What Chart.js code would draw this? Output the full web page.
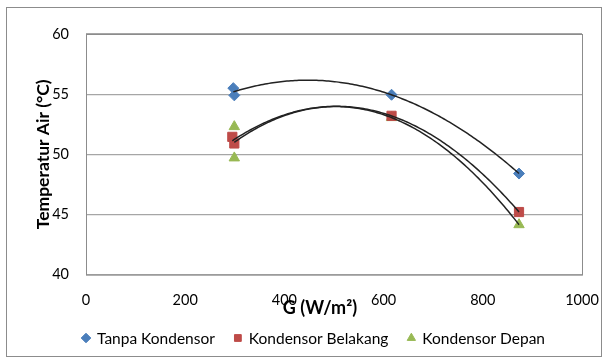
<!DOCTYPE html>
<html>
<head>
<meta charset="utf-8">
<script src="https://cdn.jsdelivr.net/npm/chart.js@4/dist/chart.umd.min.js"></script>
<style>
  body { margin: 0; background: #fff; }
  #wrap { position: absolute; left: 6px; top: 7px; width: 594px; height: 348px; border: 1px solid #8c8c8c; }
</style>
</head>
<body>
<div id="wrap"><canvas id="chart"></canvas></div>
<script>
// ─── Data ────────────────────────────────────────────────────────────────────
const tanpaX = [297, 299, 616, 873];
const tanpaY = [55.5, 54.9, 54.95, 48.4];
const belakangX = [295, 299, 616, 873];
const belakangY = [51.45, 50.9, 53.2, 45.2];
const depanX = [299, 299, 616, 873];
const depanY = [52.3, 49.7, 53.05, 44.15];
const xTicks = [0, 200, 400, 600, 800, 1000];
const yTicks = [40, 45, 50, 55, 60];
const xTitle = 'G (W/m²)';
const yTitle = 'Temperatur Air (°C)';

const pts = (xs, ys) => xs.map((x, i) => ({ x, y: ys[i] }));

// Excel-style order-2 polynomial trendline (least squares on the series)
function polyTrend(xs, ys) {
  const n = xs.length;
  let s = [0, 0, 0, 0, 0], t = [0, 0, 0];
  for (let i = 0; i < n; i++) {
    for (let k = 0; k < 5; k++) s[k] += Math.pow(xs[i], k);
    for (let k = 0; k < 3; k++) t[k] += ys[i] * Math.pow(xs[i], k);
  }
  const A = [[s[0], s[1], s[2], t[0]], [s[1], s[2], s[3], t[1]], [s[2], s[3], s[4], t[2]]];
  for (let c = 0; c < 3; c++) {
    for (let r = c + 1; r < 3; r++) {
      const f = A[r][c] / A[c][c];
      for (let k = c; k < 4; k++) A[r][k] -= f * A[c][k];
    }
  }
  const b = [0, 0, 0];
  for (let r = 2; r >= 0; r--) {
    let v = A[r][3];
    for (let k = r + 1; k < 3; k++) v -= A[r][k] * b[k];
    b[r] = v / A[r][r];
  }
  const lo = Math.min(...xs), hi = Math.max(...xs), out = [];
  for (let x = lo; x <= hi; x += 4) out.push({ x, y: b[0] + b[1] * x + b[2] * x * x });
  out.push({ x: hi, y: b[0] + b[1] * hi + b[2] * hi * hi });
  return out;
}

const FONT = 'Lato';
const trendStyle = { type: 'line', borderColor: '#222', borderWidth: 1.5, pointRadius: 0, fill: false, tension: 0, isTrend: true };

// plot frame, x title (sits a little left of centre) and the legend row
const frameAndLegend = {
  id: 'frameAndLegend',
  afterDraw(chart) {
    const { ctx, chartArea: a } = chart;
    ctx.save();
    ctx.strokeStyle = '#8c8c8c';
    ctx.lineWidth = 1;
    ctx.strokeRect(a.left + 0.5, a.top + 0.5, a.right - a.left, a.bottom - a.top);

    ctx.fillStyle = '#000';
    ctx.textBaseline = 'middle';
    ctx.textAlign = 'center';
    ctx.font = `bold 18px ${FONT}`;
    ctx.fillText(xTitle, (a.left + a.right) / 2 - 14, 300);

    ctx.textAlign = 'left';
    ctx.font = `15.5px ${FONT}`;
    const items = chart.data.datasets.filter((d) => !d.isTrend);
    const mark = 10, gap = 6, sep = 18;
    const widths = items.map((d) => mark + gap + ctx.measureText(d.label).width);
    const total = widths.reduce((p, w) => p + w, 0) + sep * (items.length - 1);
    let x = 306 - total / 2;
    const y = 330;
    items.forEach((d, i) => {
      ctx.fillStyle = d.backgroundColor;
      ctx.strokeStyle = d.borderColor;
      Chart.helpers.drawPoint(ctx, { pointStyle: d.pointStyle, radius: 4.8, borderWidth: 1 }, x + mark / 2, y);
      ctx.fillStyle = '#000';
      ctx.fillText(d.label, x + mark + gap, y + 1);
      x += widths[i] + sep;
    });
    ctx.restore();
  },
};

new Chart(document.getElementById('chart'), {
  type: 'scatter',
  data: {
    datasets: [
      { ...trendStyle, data: polyTrend(tanpaX, tanpaY) },
      { ...trendStyle, data: polyTrend(belakangX, belakangY) },
      { ...trendStyle, data: polyTrend(depanX, depanY) },
      {
        label: 'Tanpa Kondensor',
        data: pts(tanpaX, tanpaY),
        pointStyle: 'rectRot',
        pointRadius: 5.5,
        backgroundColor: '#4a7ebb',
        borderColor: '#4a7ebb',
      },
      {
        label: 'Kondensor Belakang',
        data: pts(belakangX, belakangY),
        pointStyle: 'rect',
        pointRadius: 6.5,
        backgroundColor: '#be4b48',
        borderColor: '#be4b48',
      },
      {
        label: 'Kondensor Depan',
        data: pts(depanX, depanY),
        pointStyle: 'triangle',
        pointRadius: 6,
        backgroundColor: '#98b954',
        borderColor: '#98b954',
      },
    ],
  },
  options: {
    responsive: true,
    maintainAspectRatio: false,
    animation: false,
    layout: { padding: { left: 26, right: 19, top: 26, bottom: 38 } },
    plugins: {
      tooltip: { enabled: false },
      legend: { display: false },
    },
    scales: {
      x: {
        type: 'linear',
        min: 0, max: 1000,
        afterBuildTicks: (s) => { s.ticks = xTicks.map((v) => ({ value: v })); },
        afterFit: (s) => { s.paddingRight = 0; },
        grid: { display: false },
        border: { display: false },
        ticks: { color: '#000', font: { family: FONT, size: 14.5 }, padding: 9, callback: (v) => String(v) },
      },
      y: {
        min: 40, max: 60,
        afterBuildTicks: (s) => { s.ticks = yTicks.map((v) => ({ value: v })); },
        afterFit: (s) => { s.width = 53; },
        grid: { color: '#a6a6a6', drawTicks: false, lineWidth: 1.2 },
        border: { display: false },
        ticks: { color: '#000', font: { family: FONT, size: 14.5 }, padding: 17 },
        title: { display: true, text: yTitle, color: '#000', font: { family: FONT, size: 17.5, weight: 'bold' }, padding: { top: 0, bottom: 0 } },
      },
    },
  },
  plugins: [frameAndLegend],
});
</script>
</body>
</html>
